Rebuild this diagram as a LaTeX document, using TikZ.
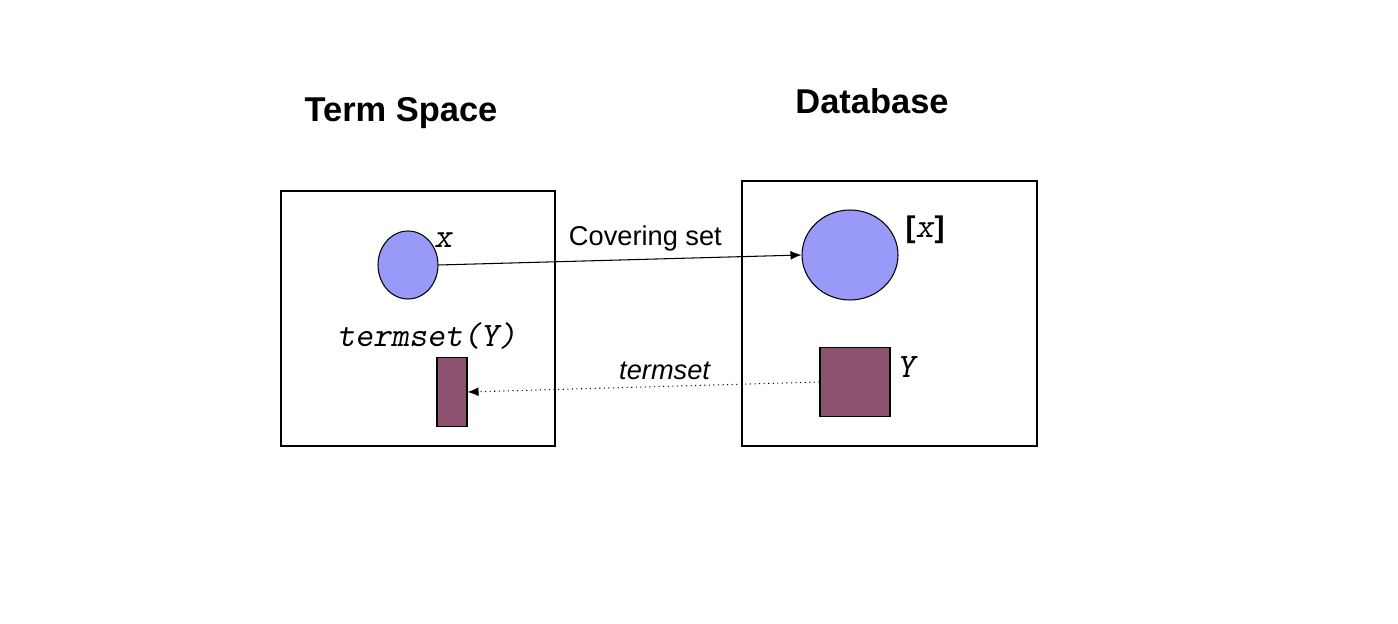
\documentclass[tikz,border=0pt]{standalone}
\usepackage{fontspec}
\setmainfont{Liberation Sans}
\usetikzlibrary{shapes.geometric,arrows.meta}
\definecolor{setblue}{RGB}{153,153,247}
\definecolor{setplum}{RGB}{140,83,112}

\begin{document}
\begin{tikzpicture}[x=0.02cm,y=-0.02cm,
		frame/.style={draw,line width=0.6pt},
		blob/.style={ellipse,draw,fill=setblue,line width=0.6pt,inner sep=0pt},
		brick/.style={rectangle,draw,fill=setplum,line width=0.6pt,inner sep=0pt},
		title/.style={font=\fontsize{19.6}{22}\selectfont\bfseries},
		lbl/.style={font=\fontsize{15.5}{18}\selectfont},
		tlbl/.style={font=\fontsize{19.5}{22}\selectfont\ttfamily\slshape}]
	\useasboundingbox (0,0) rectangle (1398,624);
	% titles
	\node[title] (tsname) at (401,113) {Term Space};
	\node[title] (dbname) at (872,101) {Database};
	% the two spaces
	\draw[frame] (281,191) rectangle (555,446);
	\draw[frame] (742,181) rectangle (1037,446);
	% sets
	\node[blob,minimum width=1.2cm,minimum height=1.36cm] (ex) at (408,265) {};
	\node[blob,minimum width=1.92cm,minimum height=1.8cm] (cls) at (850,255) {};
	\node[brick,minimum width=0.6cm,minimum height=1.38cm] (ts) at (452,392) {};
	\node[brick,minimum width=1.4cm,minimum height=1.38cm] (ydb) at (855,382) {};
	% labels
	\node[tlbl] (exlbl) at (443,240) {x};
	\node[tlbl] (tslbl) at (427,336) {termset(Y)};
	\node[font=\fontsize{17}{20}\selectfont] (clslbl) at (925,230) {\textbf{[}{\fontsize{19.5}{22}\selectfont\ttfamily\slshape x}\textbf{]}};
	\node[tlbl] (ylbl) at (906,367) {Y};
	% maps
	\draw[line width=0.6pt,-{Latex[length=2.2mm,width=1.8mm]}] (ex.east) -- (cls.west)
		node[lbl,pos=0.57,above=1pt] {Covering set};
	\draw[line width=0.6pt,dotted,-{Latex[length=2.2mm,width=1.8mm]}] (ydb.west) -- (ts.east)
		node[lbl,pos=0.44,above=0pt,font=\fontsize{15.5}{18}\selectfont\itshape] {termset};
\end{tikzpicture}
\end{document}
